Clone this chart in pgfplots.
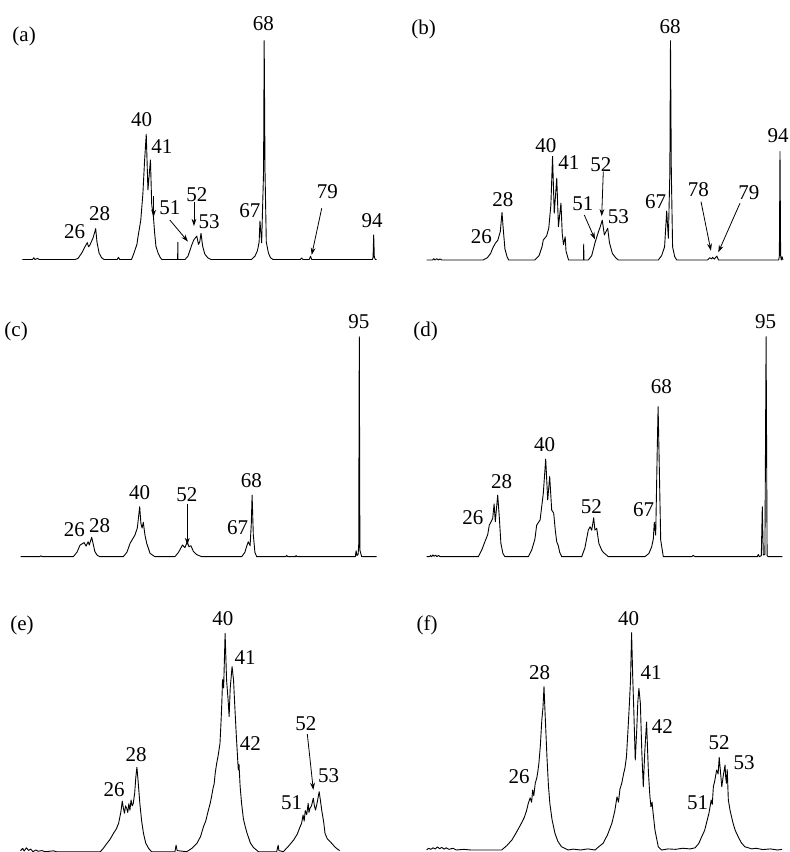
\documentclass[border=0pt]{standalone}
\usepackage{fontspec}
\setmainfont{Liberation Serif}
\usepackage{pgfplots}
\pgfplotsset{compat=1.18}
\usetikzlibrary{arrows.meta}
\pgfplotsset{spec/.style={hide axis, clip=false, anchor=south west, ymin=0, ymax=110}}
\tikzset{sp/.style={black, line width=0.45pt, mark=none, line join=round},
  lab/.style={font=\fontsize{10.5}{12}\selectfont, inner sep=0pt},
  arr/.style={-{Stealth[length=3.6pt,width=2.4pt]}, line width=0.4pt}}
\begin{document}
\begin{tikzpicture}
\path[use as bounding box] (0,0) rectangle (395pt,426pt);
% ---------------- (a)
\begin{axis}[spec, at={(5.73pt,296.25pt)}, x=2.106pt, y=1.094pt, xmin=8, xmax=97]
\addplot[sp] coordinates {(10.6,0) (13.0,0) (13.3,0.8) (13.6,0) (14.2,0.5) (14.6,0) (23.1,0) (23.8,0.5) (24.7,3) (25.5,6) (26.0,7.7) (26.3,5.8) (26.6,6.5) (27.4,10) (28.0,14.1) (28.3,8) (28.8,3) (29.4,0.8) (30.0,0) (33.1,0) (33.4,1) (33.7,0) (36.5,0) (37.1,3) (37.8,7) (38.0,9.8) (38.7,18) (39.2,30) (39.6,45) (40.0,57.2) (40.4,31.8) (41.0,45.5) (41.3,25) (41.7,19.6) (42.0,12) (42.3,6) (42.8,3) (43.3,1) (43.7,0) (47.45,0) (47.5,7.9) (47.55,0) (49.2,0) (49.9,1.5) (50.8,6.6) (51.3,9) (52.0,10.7) (52.4,6.9) (52.7,8) (53.0,12.0) (53.4,6) (53.9,2.5) (54.6,0.8) (55.4,0) (65.0,0) (65.8,1.5) (66.4,4) (66.8,8) (67.0,17.6) (67.4,7.6) (67.85,40) (68.0,100) (68.2,40) (68.5,8) (69.0,3) (69.5,0.8) (70.1,0) (76.6,0) (76.9,0.7) (77.2,0) (78.7,0) (79.0,1.5) (79.3,0) (93.7,0) (93.85,1) (94.0,11.2) (94.15,1) (94.4,0) (94.7,0)};
\node[lab] at (axis cs:11.0,101.8) {(a)};
\node[lab] at (axis cs:23.0,12.7) {26};
\node[lab] at (axis cs:28.95,20.9) {28};
\node[lab] at (axis cs:38.9,63.9) {40};
\node[lab] at (axis cs:43.7,51.7) {41};
\node[lab] at (axis cs:45.6,23.5) {51};
\node[lab] at (axis cs:52.0,29.6) {52};
\node[lab] at (axis cs:54.9,17.3) {53};
\node[lab] at (axis cs:64.6,22.1) {67};
\node[lab] at (axis cs:67.8,107.6) {68};
\node[lab] at (axis cs:83.0,30.8) {79};
\node[lab] at (axis cs:93.6,17.9) {94};
\draw[arr] (axis cs:45.6,18.05) -- (axis cs:49.9,8.2);
\draw[arr] (axis cs:51.33,26.4) -- (axis cs:51.33,15.3);
\draw[arr] (axis cs:81.66,23.4) -- (axis cs:79.28,2.1);
\draw[arr] (axis cs:41.75,29) -- (axis cs:41.75,19.5);
\end{axis}
% ---------------- (b)
\begin{axis}[spec, at={(208.88pt,296pt)}, x=2.106pt, y=1.0965pt, xmin=8, xmax=96]
\addplot[sp] coordinates {(10.1,0) (11.5,0) (11.8,0.6) (12.1,0) (12.5,0.6) (12.9,0) (13.3,0.5) (13.7,0) (15,0) (23.5,0) (24.5,1) (25.3,3) (25.8,5.4) (26.4,7.6) (27.0,9) (27.6,13) (28.0,21.7) (28.3,14) (28.7,5) (29.2,1.5) (29.6,0) (35.8,0) (36.8,2) (37.5,6) (37.8,9.1) (38.6,11) (39.1,14.5) (39.6,25) (40.0,47.3) (40.4,21.3) (41.0,37.3) (41.4,15.2) (42.0,25.9) (42.3,12) (42.6,7) (43.0,10.6) (43.2,4) (43.8,0) (47.35,0) (47.4,7.3) (47.45,0) (48.5,0) (49.3,2) (50.1,8) (50.9,12.9) (51.3,15) (51.8,18.2) (52.3,11.4) (52.7,13) (53.1,14.5) (53.5,8) (54.2,3) (55.0,1) (55.6,0) (65.1,0) (65.9,2) (66.6,6) (67.1,22.3) (67.5,9.9) (67.85,40) (68.0,100) (68.2,40) (68.5,6) (69.0,1.5) (69.5,0) (76.8,0) (77.3,1) (77.8,0.5) (78.0,1.2) (78.4,0.4) (79.0,1.8) (79.4,0) (93.7,0) (93.85,2) (94.0,49.4) (94.15,2) (94.3,0) (94.5,1.5) (94.7,0)};
\node[lab] at (axis cs:9.41,105.3) {(b)};
\node[lab] at (axis cs:23.1,10.5) {26};
\node[lab] at (axis cs:28.2,27.5) {28};
\node[lab] at (axis cs:38.4,52.2) {40};
\node[lab] at (axis cs:43.9,44.2) {41};
\node[lab] at (axis cs:47.2,25.7) {51};
\node[lab] at (axis cs:51.5,43.5) {52};
\node[lab] at (axis cs:55.6,19.7) {53};
\node[lab] at (axis cs:64.5,26.4) {67};
\node[lab] at (axis cs:67.9,106.2) {68};
\node[lab] at (axis cs:74.6,32.1) {78};
\node[lab] at (axis cs:86.6,30.9) {79};
\node[lab] at (axis cs:93.53,56.6) {94};
\draw[arr] (axis cs:47.54,20.5) -- (axis cs:50.08,9.4);
\draw[arr] (axis cs:52.05,40.3) -- (axis cs:51.67,20.0);
\draw[arr] (axis cs:75.25,26.6) -- (axis cs:77.6,4.2);
\draw[arr] (axis cs:84.5,25.9) -- (axis cs:79.35,3.5);
\end{axis}
% ---------------- (c)
\begin{axis}[spec, at={(5.85pt,147.65pt)}, x=2pt, y=1.1pt, xmin=8, xmax=100]
\addplot[sp] coordinates {(10.25,0) (15,0) (15.3,0.4) (15.6,0) (23.4,0) (24.3,2) (25.1,5.3) (26.1,6.4) (26.6,4.8) (27.1,6.8) (27.4,5.3) (28.0,8.8) (28.8,2.3) (29.4,0.6) (30.1,0) (35.9,0) (36.8,2) (37.6,6.1) (38.8,9.8) (39.4,13) (40.0,22.7) (40.3,15.2) (40.6,13) (40.9,15.6) (41.3,10) (41.75,6.1) (42.6,1.5) (43.8,0) (48.8,0) (49.7,2) (50.7,5.3) (51.3,4.1) (51.9,6.8) (52.3,4.5) (52.8,5.0) (53.4,2.5) (54.2,1) (55.5,0) (65.5,0) (66.3,2) (66.7,4.5) (67.15,6.8) (67.6,5) (67.9,15) (68.1,28.0) (68.4,10) (68.8,2) (69.25,0) (76.5,0) (76.75,0.6) (77.0,0) (78.9,0) (79.1,0.5) (79.3,0) (93.9,0) (94.1,2.7) (94.3,0.5) (94.6,1) (94.75,5) (94.9,100) (95.05,3) (95.5,0) (99.25,0)};
\node[lab] at (axis cs:9.1,102.5) {(c)};
\node[lab] at (axis cs:23.7,12.3) {26};
\node[lab] at (axis cs:30.0,14.3) {28};
\node[lab] at (axis cs:40.0,29.0) {40};
\node[lab] at (axis cs:51.8,28.3) {52};
\node[lab] at (axis cs:64.5,13.1) {67};
\node[lab] at (axis cs:67.9,34.7) {68};
\node[lab] at (axis cs:94.8,106.8) {95};
\draw[arr] (axis cs:51.9,24.0) -- (axis cs:51.9,5.3);
\end{axis}
% ---------------- (d)
\begin{axis}[spec, at={(208.85pt,147.65pt)}, x=2pt, y=1.1pt, xmin=8, xmax=100]
\addplot[sp] coordinates {(10.25,0) (11,0) (11.2,0.6) (11.5,0) (11.8,0.8) (12.1,0.2) (12.5,0.7) (12.8,0) (13.2,0.6) (13.6,0) (23.15,0) (24.0,3) (24.8,6.8) (25.5,10) (25.9,14.4) (26.25,15.5) (26.75,17.4) (27.1,24.0) (27.4,15.9) (28.0,28.0) (28.4,18) (28.8,6) (29.3,1.5) (29.8,0) (35.65,0) (36.5,3) (37.3,8) (37.75,14.4) (38.6,16.7) (39.4,28.8) (40.0,44.4) (40.5,25.8) (41.0,36.4) (41.5,21.2) (42.0,19.8) (42.4,12) (42.75,6.8) (43.15,5) (43.5,2) (44.0,0) (49.0,0) (49.8,4) (50.65,12.1) (51.1,13.6) (51.5,12) (52.0,17.7) (52.3,12.1) (52.75,12.9) (53.3,6) (54.0,3) (54.4,2) (55.65,0) (64.8,0) (65.8,1.5) (66.5,4.5) (66.9,8) (67.15,15.6) (67.5,9.8) (67.9,50) (68.1,68.2) (68.3,50) (68.75,7.6) (69.4,0) (76.5,0) (76.9,0.6) (77.3,0) (92.9,0) (93.15,1) (93.4,0) (93.9,0.5) (94.15,22.7) (94.4,0.8) (94.8,1) (95.1,100) (95.35,0.5) (95.6,0) (99.15,0)};
\node[lab] at (axis cs:9.95,102.3) {(d)};
\node[lab] at (axis cs:21.8,17.7) {26};
\node[lab] at (axis cs:29.0,33.9) {28};
\node[lab] at (axis cs:39.75,50.9) {40};
\node[lab] at (axis cs:51.4,22.6) {52};
\node[lab] at (axis cs:64.5,21.2) {67};
\node[lab] at (axis cs:68.9,77.1) {68};
\node[lab] at (axis cs:95.0,106.8) {95};
\end{axis}
% ---------------- (e)
\begin{axis}[spec, at={(2.57pt,0.15pt)}, x=3.66pt, y=1.0915pt, xmin=10, xmax=60]
\addplot[sp] coordinates {(12.1,0.5) (12.4,1.5) (12.6,0.3) (12.9,1.8) (13.2,0.6) (13.5,1.2) (13.8,0) (14.2,0.8) (14.5,0.2) (15.0,0.5) (15.5,0) (16.6,0.4) (17,0) (23.0,0) (23.4,1.5) (23.9,3.8) (24.3,5.5) (24.8,8.4) (25.2,10.5) (25.5,13) (25.8,18) (26.0,23.2) (26.15,20) (26.3,17.6) (26.45,21) (26.6,19.9) (26.75,18) (26.9,22) (27.05,19) (27.2,23.7) (27.35,21) (27.5,22) (27.7,27) (27.85,34) (28.0,38.7) (28.15,33) (28.4,22.2) (28.65,14) (28.9,8.4) (29.2,4) (29.6,1.5) (30.0,0) (33.2,0) (33.35,3) (33.5,0.5) (34.8,0) (35.5,1.5) (36.2,3.8) (36.7,7) (37.1,11.5) (37.4,14) (37.75,18.8) (38.0,22) (38.2,25.2) (38.4,29) (38.55,31) (38.7,36) (38.9,40.5) (39.1,44) (39.35,49.6) (39.5,60) (39.6,68) (39.7,78.8) (39.85,75) (40.05,100) (40.25,78.7) (40.45,70) (40.6,61.9) (40.75,75) (41.0,84.8) (41.2,78.7) (41.4,64.9) (41.6,52) (41.85,37.5) (41.95,40) (42.1,30) (42.3,22.2) (42.55,15) (42.8,11.5) (43.0,9) (43.2,7.0) (43.5,4) (43.9,2) (44.6,0) (47.1,0) (47.2,1.5) (47.3,3) (47.4,0.5) (48.0,0) (48.7,2.5) (49.4,5.3) (49.9,8) (50.3,11.5) (50.5,13) (50.7,16.8) (50.85,14) (51.0,18.8) (51.2,17) (51.4,22.2) (51.5,18) (51.65,19.9) (51.85,21) (52.1,24.5) (52.25,21) (52.4,19.1) (52.6,22) (52.9,27.5) (53.05,24) (53.25,19) (53.5,14) (53.7,8.4) (54.0,6) (54.4,4.6) (54.7,3.5) (55.1,2) (55.4,1.2) (55.7,0.5)};
\node[lab] at (axis cs:12.3,103.7) {(e)};
\node[lab] at (axis cs:24.9,28.3) {26};
\node[lab] at (axis cs:27.9,44.7) {28};
\node[lab] at (axis cs:39.76,106.7) {40};
\node[lab] at (axis cs:42.77,89.1) {41};
\node[lab] at (axis cs:43.5,49.7) {42};
\node[lab] at (axis cs:49.15,22.3) {51};
\node[lab] at (axis cs:51.1,58.6) {52};
\node[lab] at (axis cs:54.2,34.9) {53};
\draw[arr] (axis cs:51.28,53.9) -- (axis cs:52.1,28.3);
\end{axis}
% ---------------- (f)
\begin{axis}[spec, at={(206.3pt,1pt)}, x=3.65pt, y=1.0865pt, xmin=10, xmax=61]
\addplot[sp] coordinates {(11.93,0) (12.2,0.8) (12.5,0.3) (12.8,1) (13.1,0.5) (13.4,1.4) (13.7,0.6) (14.0,1.2) (14.3,0.4) (14.6,1) (15.0,0.3) (15.5,0.8) (16.0,0) (17,0.3) (18,0) (22.2,0) (22.9,2) (23.6,4.6) (24.2,8) (24.9,12.3) (25.3,15) (25.6,18) (25.85,21.5) (26.1,24) (26.3,22) (26.45,27.6) (26.6,25) (26.8,30.7) (27.0,33) (27.15,36) (27.3,39.9) (27.5,48) (27.7,59.8) (27.85,65) (28.0,75.2) (28.15,62.6) (28.25,55) (28.4,43.1) (28.6,30) (28.8,21.5) (29.1,14) (29.5,7.7) (29.9,4) (30.4,1.5) (31.3,0) (32,0.4) (33,0) (34,0.5) (35.0,0) (35.5,1.5) (36.1,3.1) (36.7,7) (37.3,12.3) (37.7,18) (38.0,24.5) (38.2,22) (38.4,28) (38.65,30.7) (38.9,35) (39.1,38) (39.3,43) (39.5,55) (39.7,67.5) (39.85,78) (40.0,100) (40.15,80) (40.3,64.4) (40.5,41.4) (40.7,55) (40.85,68) (41.0,74.4) (41.2,67.5) (41.4,45) (41.6,29.1) (41.8,45) (42.05,58.9) (42.3,36) (42.5,25) (42.65,19.9) (42.8,22) (42.95,16.9) (43.2,9.2) (43.65,1.5) (44.1,0) (45,0.5) (46,0.3) (47,0.8) (48,0.5) (48.7,1) (49.2,3) (49.6,6.1) (50.0,9) (50.3,13) (50.6,17) (50.9,23) (51.05,21) (51.2,29.1) (51.4,32) (51.65,36.8) (51.85,35) (52.0,42.6) (52.2,35) (52.35,29.1) (52.55,34) (52.8,39.1) (52.9,33) (53.0,30.7) (53.1,37) (53.25,23) (53.5,18) (53.9,12.3) (54.2,9) (54.6,6.1) (55.0,3.5) (55.5,1.5) (56.0,1) (56.45,0.5) (57,0.8) (58,0.2) (59,0.5) (60,0) (60.6,0.3)};
\node[lab] at (axis cs:12.0,103.5) {(f)};
\node[lab] at (axis cs:24.6,33.9) {26};
\node[lab] at (axis cs:27.4,81.8) {28};
\node[lab] at (axis cs:39.6,106.4) {40};
\node[lab] at (axis cs:42.66,81.8) {41};
\node[lab] at (axis cs:44.2,56.6) {42};
\node[lab] at (axis cs:49.05,21.6) {51};
\node[lab] at (axis cs:52.0,49.6) {52};
\node[lab] at (axis cs:55.4,40.4) {53};
\end{axis}
\end{tikzpicture}
\end{document}
